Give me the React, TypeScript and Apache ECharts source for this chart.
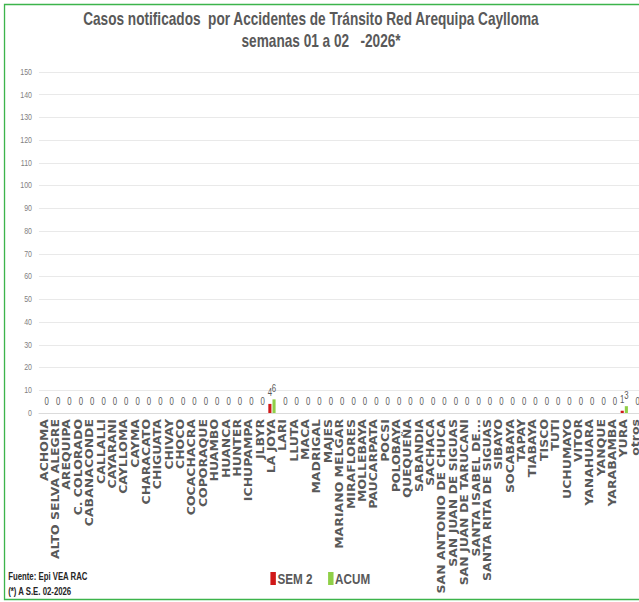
import React, { useEffect, useRef } from "react";
import * as echarts from "echarts";

const categories = [
  "ACHOMA", "ALTO SELVA ALEGRE", "AREQUIPA", "C. COLORADO", "CABANACONDE", "CALLALLI",
  "CAYARANI", "CAYLLOMA", "CAYMA", "CHARACATO", "CHIGUATA", "CHIVAY", "CHOCO",
  "COCACHACRA", "COPORAQUE", "HUAMBO", "HUANCA", "HUNTER", "ICHUPAMPA", "JLBYR",
  "LA JOYA", "LARI", "LLUTA", "MACA", "MADRIGAL", "MAJES", "MARIANO MELGAR",
  "MIRAFLORES", "MOLLEBAYA", "PAUCARPATA", "POCSI", "POLOBAYA", "QUEQUEÑA",
  "SABANDIA", "SACHACA", "SAN ANTONIO DE CHUCA", "SAN JUAN DE SIGUAS",
  "SAN JUAN DE TARUCANI", "SANTA ISABEL DE...", "SANTA RITA DE SIGUAS", "SIBAYO",
  "SOCABAYA", "TAPAY", "TIABAYA", "TISCO", "TUTI", "UCHUMAYO", "VITOR", "YANAHUARA",
  "YANQUE", "YARABAMBA", "YURA", "otros",
];

const sem2 = [
  0, 0, 0, 0, 0, 0, 0, 0, 0, 0, 0, 0, 0, 0, 0, 0, 0, 0, 0, 0,
  4, 0, 0, 0, 0, 0, 0, 0, 0, 0, 0, 0, 0, 0, 0, 0, 0, 0, 0, 0,
  0, 0, 0, 0, 0, 0, 0, 0, 0, 0, 0, 1, 0,
];

const acum = [
  0, 0, 0, 0, 0, 0, 0, 0, 0, 0, 0, 0, 0, 0, 0, 0, 0, 0, 0, 0,
  6, 0, 0, 0, 0, 0, 0, 0, 0, 0, 0, 0, 0, 0, 0, 0, 0, 0, 0, 0,
  0, 0, 0, 0, 0, 0, 0, 0, 0, 0, 0, 3, 0,
];

const seriesNames = ["SEM 2", "ACUM"];
const titleLine1 = "Casos notificados  por Accidentes de Tránsito Red Arequipa Caylloma";
const titleLine2 = "semanas 01 a 02   -2026*";
const footLine1 = "Fuente: Epi VEA RAC";
const footLine2 = "(*) A S.E. 02-2026";

const SANS = '"Liberation Sans", Arial, sans-serif';
// The reference picture is horizontally condensed: the chart is drawn wider and squeezed.
const INNER_W = 820;
const SX = 639 / INNER_W;

export default function App() {
  const ref = useRef<HTMLDivElement>(null);
  useEffect(() => {
    if (!ref.current) return;
    const chart = echarts.init(ref.current, undefined, { renderer: "svg" });
    const labelBase = {
      show: true,
      position: "top",
      distance: 6,
      fontSize: 10,
      fontFamily: SANS,
      color: "#595959",
    };
    chart.setOption({
      animation: false,
      backgroundColor: "#ffffff",
      grid: {
        left: 50,
        right: -3,
        top: 72,
        bottom: 189,
        containLabel: false,
        outerBoundsMode: "none",
      },
      legend: {
        data: seriesNames,
        left: 342,
        top: 566,
        itemWidth: 7,
        itemHeight: 13,
        itemGap: 20,
        icon: "rect",
        textStyle: {
          fontSize: 15,
          fontWeight: "bold",
          fontFamily: SANS,
          color: "#595959",
          padding: [0, 0, 0, -3],
        },
      },
      xAxis: {
        type: "category",
        data: categories,
        axisTick: { show: false },
        axisLine: { lineStyle: { color: "#d9d9d9", width: 1 } },
        axisLabel: {
          interval: 0,
          rotate: 90,
          margin: 6,
          fontSize: 12.5,
          fontWeight: "bold",
          fontFamily: '"DejaVu Sans", Verdana, sans-serif',
          color: "#595959",
        },
      },
      yAxis: {
        type: "value",
        min: 0,
        max: 150,
        interval: 10,
        axisLine: { show: false },
        axisTick: { show: false },
        axisLabel: {
          fontSize: 9,
          fontFamily: SANS,
          color: "#7f7f7f",
          margin: 9,
        },
        splitLine: { lineStyle: { color: "#e6e6e6", width: 1 } },
      },
      series: [
        {
          name: seriesNames[0],
          type: "bar",
          data: sem2,
          barWidth: 4,
          barGap: "33%",
          itemStyle: { color: "#d01818" },
          label: {
            ...labelBase,
            formatter: (p: any) => (p.value === 0 ? "" : String(p.value)),
          },
        },
        {
          name: seriesNames[1],
          type: "bar",
          data: acum,
          barWidth: 4,
          itemStyle: { color: "#8fcf47" },
          label: labelBase,
        },
      ],
      graphic: [
        {
          type: "rect",
          shape: { x: 5.8, y: 4.5, width: 900, height: 595 },
          style: { fill: "none", stroke: "#3cb44b", lineWidth: 1.7 },
          silent: true,
        },
        {
          type: "text",
          x: 399,
          y: 19,
          style: {
            text: titleLine1,
            textAlign: "center",
            textVerticalAlign: "middle",
            fontSize: 17.5,
            fontWeight: "bold",
            fontFamily: SANS,
            fill: "#595959",
          },
        },
        {
          type: "text",
          x: 412,
          y: 41,
          style: {
            text: titleLine2,
            textAlign: "center",
            textVerticalAlign: "middle",
            fontSize: 17.5,
            fontWeight: "bold",
            fontFamily: SANS,
            fill: "#595959",
          },
        },
        {
          type: "text",
          x: 10.5,
          y: 577,
          style: {
            text: footLine1,
            textVerticalAlign: "middle",
            fontSize: 10,
            fontWeight: "bold",
            fontFamily: SANS,
            fill: "#262626",
          },
        },
        {
          type: "text",
          x: 10.5,
          y: 592,
          style: {
            text: footLine2,
            textVerticalAlign: "middle",
            fontSize: 10,
            fontWeight: "bold",
            fontFamily: SANS,
            fill: "#262626",
          },
        },
      ],
    });
    return () => chart.dispose();
  }, []);
  return (
    <div
      style={{
        position: "fixed",
        left: 0,
        top: 0,
        width: 639,
        height: 602,
        overflow: "hidden",
        background: "#fff",
      }}
    >
      <div
        ref={ref}
        style={{
          width: INNER_W,
          height: 602,
          transform: `scaleX(${SX})`,
          transformOrigin: "0 0",
        }}
      />
    </div>
  );
}
